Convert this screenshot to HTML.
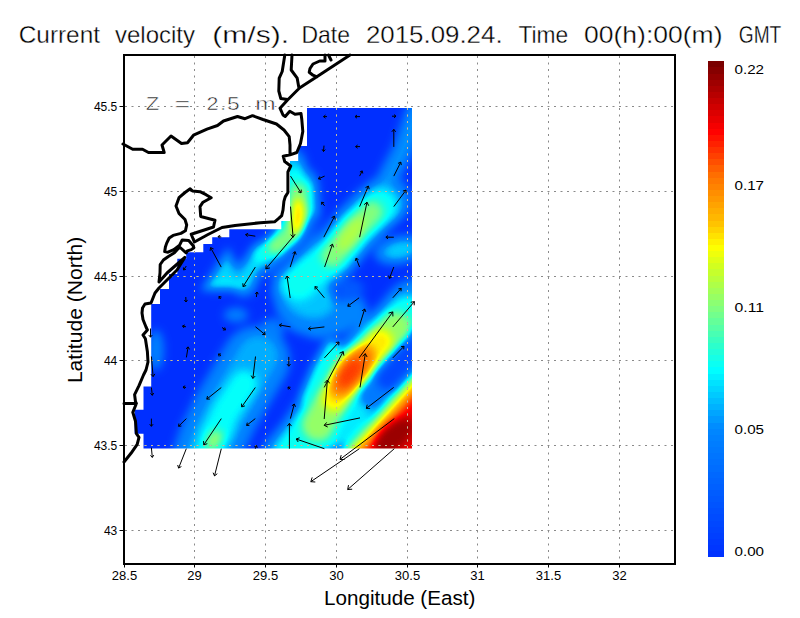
<!DOCTYPE html><html><head><meta charset="utf-8"><style>
html,body{margin:0;padding:0;background:#fff;width:800px;height:618px;overflow:hidden}
svg{display:block}
text{font-family:"Liberation Sans",sans-serif}
</style></head><body>
<svg width="800" height="618" viewBox="0 0 800 618">
<rect width="800" height="618" fill="#fff"/>

<g font-size="24" fill="#000" stroke="#fff" stroke-width="0.35">
<text x="18.75" y="42.5" textLength="81.25" lengthAdjust="spacingAndGlyphs">Current</text>
<text x="115.00" y="42.5" textLength="80.00" lengthAdjust="spacingAndGlyphs">velocity</text>
<text x="212.30" y="42.5" textLength="76.70" lengthAdjust="spacingAndGlyphs">(m/s).</text>
<text x="301.50" y="42.5" textLength="48.50" lengthAdjust="spacingAndGlyphs">Date</text>
<text x="365.90" y="42.5" textLength="136.70" lengthAdjust="spacingAndGlyphs">2015.09.24.</text>
<text x="518.40" y="42.5" textLength="49.80" lengthAdjust="spacingAndGlyphs">Time</text>
<text x="584.00" y="42.5" textLength="138.50" lengthAdjust="spacingAndGlyphs">00(h):00(m)</text>
<text x="738.75" y="42.5" textLength="42.50" lengthAdjust="spacingAndGlyphs">GMT</text>
</g>
<defs><clipPath id="fc"><path d="M307,108 H412 V448.4 H143.5 V433.7 H134.6 V409.7 H143.5 V386.6 H151.2 V304 H160 V289 H169 V274 H177.3 V258.7 H186.2 V252.2 H203.3 V244.1 H212.2 V237.3 H229.3 V229.2 H281.3 V221 H290 V161 H298.2 V146 H307 Z"/></clipPath></defs>
<defs><filter id="cm" filterUnits="userSpaceOnUse" x="100" y="90" width="340" height="380" color-interpolation-filters="sRGB"><feGaussianBlur stdDeviation="4.5"/><feComponentTransfer><feFuncR type="table" tableValues="0.000 0.000 0.000 0.000 0.000 0.000 0.000 0.000 0.000 0.000 0.000 0.000 0.000 0.000 0.000 0.000 0.000 0.000 0.000 0.000 0.000 0.000 0.000 0.000 0.000 0.000 0.000 0.000 0.000 0.000 0.000 0.000 0.000 0.000 0.000 0.000 0.000 0.000 0.011 0.046 0.082 0.117 0.153 0.188 0.233 0.278 0.323 0.368 0.412 0.457 0.502 0.539 0.576 0.613 0.650 0.687 0.723 0.760 0.797 0.839 0.885 0.931 0.977 1.000 1.000 1.000 1.000 1.000 1.000 1.000 1.000 1.000 1.000 1.000 1.000 1.000 1.000 1.000 1.000 1.000 1.000 1.000 1.000 1.000 1.000 1.000 1.000 0.961 0.922 0.883 0.844 0.805 0.766 0.727 0.689 0.650 0.611 0.572 0.533 0.494 0.455"/><feFuncG type="table" tableValues="0.188 0.202 0.215 0.228 0.241 0.255 0.268 0.281 0.294 0.308 0.321 0.334 0.348 0.361 0.374 0.387 0.401 0.414 0.427 0.440 0.454 0.467 0.480 0.494 0.507 0.520 0.533 0.572 0.610 0.648 0.687 0.725 0.763 0.802 0.840 0.878 0.923 0.968 1.000 1.000 1.000 1.000 1.000 1.000 1.000 1.000 1.000 1.000 1.000 1.000 1.000 1.000 1.000 1.000 1.000 1.000 1.000 1.000 1.000 1.000 1.000 1.000 1.000 0.975 0.926 0.876 0.827 0.778 0.736 0.703 0.670 0.637 0.604 0.571 0.538 0.505 0.472 0.439 0.390 0.342 0.293 0.244 0.195 0.146 0.098 0.049 0.000 0.000 0.000 0.000 0.000 0.000 0.000 0.000 0.000 0.000 0.000 0.000 0.000 0.000 0.000"/><feFuncB type="table" tableValues="1.000 1.000 1.000 1.000 1.000 1.000 1.000 1.000 1.000 1.000 1.000 1.000 1.000 1.000 1.000 1.000 1.000 1.000 1.000 1.000 1.000 1.000 1.000 1.000 1.000 1.000 1.000 1.000 1.000 1.000 1.000 1.000 1.000 1.000 1.000 1.000 1.000 1.000 0.988 0.947 0.906 0.866 0.825 0.784 0.744 0.704 0.663 0.623 0.583 0.542 0.502 0.458 0.413 0.369 0.325 0.281 0.236 0.192 0.148 0.110 0.078 0.047 0.016 0.000 0.000 0.000 0.000 0.000 0.000 0.000 0.000 0.000 0.000 0.000 0.000 0.000 0.000 0.000 0.000 0.000 0.000 0.000 0.000 0.000 0.000 0.000 0.000 0.000 0.000 0.000 0.000 0.000 0.000 0.000 0.000 0.000 0.000 0.000 0.000 0.000 0.000"/></feComponentTransfer></filter></defs>
<g clip-path="url(#fc)"><g filter="url(#cm)"><rect x="100" y="90" width="340" height="380" fill="#000"/>
<path d="M416.0,112.0 L403.0,150.0 L390.0,174.0 L380.0,196.0" stroke="rgb(56,56,56)" stroke-width="22.0" fill="none" stroke-linecap="round" stroke-linejoin="round"/>
<path d="M272.0,330.0 L252.0,367.0" stroke="rgb(56,56,56)" stroke-width="24.0" fill="none" stroke-linecap="round" stroke-linejoin="round"/>
<ellipse cx="236.0" cy="315.0" rx="12.0" ry="7.5" transform="rotate(0.0 236.0 315.0)" fill="rgb(59,59,59)"/>
<path d="M291.0,163.0 L298.0,190.0 L299.0,215.0 L293.0,235.0 L280.0,248.0 L265.0,256.0" stroke="rgb(61,61,61)" stroke-width="30.0" fill="none" stroke-linecap="round" stroke-linejoin="round"/>
<path d="M298.0,186.0 L300.0,215.0 L293.0,235.0" stroke="rgb(61,61,61)" stroke-width="42.0" fill="none" stroke-linecap="round" stroke-linejoin="round"/>
<path d="M278.0,246.0 L262.0,256.0 L250.0,270.0 L244.0,284.0" stroke="rgb(61,61,61)" stroke-width="26.0" fill="none" stroke-linecap="round" stroke-linejoin="round"/>
<path d="M386.0,200.0 L374.0,210.0 L356.0,228.0 L334.0,255.0 L312.0,272.0 L296.0,290.0" stroke="rgb(61,61,61)" stroke-width="50.0" fill="none" stroke-linecap="round" stroke-linejoin="round"/>
<ellipse cx="156.0" cy="350.0" rx="8.0" ry="20.0" transform="rotate(0.0 156.0 350.0)" fill="rgb(61,61,61)"/>
<path d="M256.0,360.0 L226.0,411.0 L212.0,440.0 L206.0,458.0" stroke="rgb(61,61,61)" stroke-width="68.0" fill="none" stroke-linecap="round" stroke-linejoin="round"/>
<ellipse cx="400.0" cy="250.0" rx="26.0" ry="14.3" transform="rotate(-12.0 400.0 250.0)" fill="rgb(64,64,64)"/>
<path d="M294.0,290.0 L290.0,305.0 L300.0,318.0 L318.0,324.0 L338.0,319.0 L352.0,310.0" stroke="rgb(64,64,64)" stroke-width="30.0" fill="none" stroke-linecap="round" stroke-linejoin="round"/>
<path d="M414.0,308.0 L400.0,325.0 L378.0,345.0 L352.0,372.0 L335.0,395.0 L320.0,418.0 L305.0,440.0 L290.0,458.0" stroke="rgb(64,64,64)" stroke-width="58.0" fill="none" stroke-linecap="round" stroke-linejoin="round"/>
<path d="M228.0,247.0 L200.0,291.0 L250.0,291.0Z" fill="rgb(71,71,71)"/>
<path d="M416.0,112.0 L403.0,150.0 L390.0,174.0 L380.0,196.0" stroke="rgb(71,71,71)" stroke-width="11.0" fill="none" stroke-linecap="round" stroke-linejoin="round"/>
<path d="M258.0,356.0 L226.0,411.0 L212.0,440.0 L206.0,458.0" stroke="rgb(76,76,76)" stroke-width="42.0" fill="none" stroke-linecap="round" stroke-linejoin="round"/>
<ellipse cx="310.0" cy="298.0" rx="26.0" ry="20.0" transform="rotate(15.0 310.0 298.0)" fill="rgb(82,82,82)"/>
<path d="M292.0,170.0 L299.0,195.0 L298.0,218.0 L291.0,236.0 L278.0,246.0 L262.0,254.0" stroke="rgb(84,84,84)" stroke-width="24.0" fill="none" stroke-linecap="round" stroke-linejoin="round"/>
<path d="M299.0,190.0 L299.0,218.0 L291.0,236.0" stroke="rgb(84,84,84)" stroke-width="34.0" fill="none" stroke-linecap="round" stroke-linejoin="round"/>
<path d="M382.0,205.0 L374.0,212.0 L356.0,228.0 L334.0,255.0 L312.0,272.0 L298.0,284.0" stroke="rgb(84,84,84)" stroke-width="40.0" fill="none" stroke-linecap="round" stroke-linejoin="round"/>
<ellipse cx="400.0" cy="250.0" rx="16.0" ry="8.8" transform="rotate(-12.0 400.0 250.0)" fill="rgb(84,84,84)"/>
<ellipse cx="350.0" cy="290.0" rx="14.0" ry="11.0" transform="rotate(-10.0 350.0 290.0)" fill="rgb(31,31,31)"/>
<path d="M226.0,257.0 L208.0,288.0 L242.0,288.0Z" fill="rgb(87,87,87)"/>
<path d="M278.0,246.0 L262.0,256.0 L250.0,270.0 L245.0,282.0" stroke="rgb(89,89,89)" stroke-width="14.0" fill="none" stroke-linecap="round" stroke-linejoin="round"/>
<path d="M212.0,285.0 L244.0,285.0" stroke="rgb(94,94,94)" stroke-width="9.0" fill="none" stroke-linecap="round" stroke-linejoin="round"/>
<path d="M244.0,384.0 L226.0,411.0 L214.0,437.0 L208.0,456.0" stroke="rgb(97,97,97)" stroke-width="28.0" fill="none" stroke-linecap="round" stroke-linejoin="round"/>
<ellipse cx="217.0" cy="432.0" rx="24.0" ry="15.0" transform="rotate(-60.0 217.0 432.0)" fill="rgb(97,97,97)"/>
<ellipse cx="334.0" cy="441.0" rx="13.0" ry="8.0" transform="rotate(-40.0 334.0 441.0)" fill="rgb(97,97,97)"/>
<path d="M295.0,178.0 L299.0,195.0 L298.0,218.0 L291.0,236.0 L278.0,246.0 L262.0,254.0" stroke="rgb(99,99,99)" stroke-width="20.0" fill="none" stroke-linecap="round" stroke-linejoin="round"/>
<path d="M299.0,192.0 L299.0,218.0 L291.0,236.0 L280.0,244.0" stroke="rgb(99,99,99)" stroke-width="28.0" fill="none" stroke-linecap="round" stroke-linejoin="round"/>
<path d="M380.0,206.0 L356.0,228.0 L334.0,255.0 L312.0,272.0 L298.0,284.0" stroke="rgb(99,99,99)" stroke-width="32.0" fill="none" stroke-linecap="round" stroke-linejoin="round"/>
<ellipse cx="301.0" cy="285.0" rx="14.0" ry="15.0" transform="rotate(0.0 301.0 285.0)" fill="rgb(99,99,99)"/>
<path d="M408.0,316.0 L378.0,345.0 L352.0,372.0 L335.0,395.0 L320.0,418.0 L305.0,440.0 L294.0,455.0" stroke="rgb(99,99,99)" stroke-width="42.0" fill="none" stroke-linecap="round" stroke-linejoin="round"/>
<path d="M332.0,348.0 L320.0,370.0 L308.0,398.0" stroke="rgb(99,99,99)" stroke-width="18.0" fill="none" stroke-linecap="round" stroke-linejoin="round"/>
<path d="M316.0,220.0 L304.0,240.0 L290.0,256.0 L272.0,274.0" stroke="rgb(31,31,31)" stroke-width="10.0" fill="none" stroke-linecap="round" stroke-linejoin="round"/>
<path d="M396.0,374.0 L378.0,392.0 L362.0,408.0 L345.0,434.0" stroke="rgb(92,92,92)" stroke-width="22.0" fill="none" stroke-linecap="round" stroke-linejoin="round"/>
<path d="M428.0,336.0 L400.0,366.0 L372.0,396.0" stroke="rgb(56,56,56)" stroke-width="24.0" fill="none" stroke-linecap="round" stroke-linejoin="round"/>
<path d="M432.0,328.0 L388.0,378.0" stroke="rgb(18,18,18)" stroke-width="24.0" fill="none" stroke-linecap="round" stroke-linejoin="round"/>
<path d="M436.4,344.3 L322.4,470.2 L520.0,520.0 L520.0,300.0Z" fill="rgb(99,99,99)"/>
<path d="M298.0,192.0 L299.0,215.0 L291.0,236.0 L276.0,246.0" stroke="rgb(128,128,128)" stroke-width="18.0" fill="none" stroke-linecap="round" stroke-linejoin="round"/>
<path d="M372.0,212.0 L356.0,228.0 L332.0,256.0" stroke="rgb(128,128,128)" stroke-width="22.0" fill="none" stroke-linecap="round" stroke-linejoin="round"/>
<ellipse cx="214.0" cy="440.0" rx="11.0" ry="7.0" transform="rotate(-60.0 214.0 440.0)" fill="rgb(133,133,133)"/>
<path d="M396.0,328.0 L378.0,345.0 L352.0,372.0 L335.0,395.0 L318.0,425.0" stroke="rgb(133,133,133)" stroke-width="32.0" fill="none" stroke-linecap="round" stroke-linejoin="round"/>
<ellipse cx="351.0" cy="234.0" rx="20.0" ry="10.0" transform="rotate(-55.0 351.0 234.0)" fill="rgb(140,140,140)"/>
<path d="M439.4,347.0 L325.4,472.9 L520.0,520.0 L520.0,300.0Z" fill="rgb(140,140,140)"/>
<path d="M380.0,342.0 L352.0,372.0 L335.0,398.0" stroke="rgb(163,163,163)" stroke-width="26.0" fill="none" stroke-linecap="round" stroke-linejoin="round"/>
<ellipse cx="298.0" cy="217.0" rx="7.0" ry="19.0" transform="rotate(0.0 298.0 217.0)" fill="rgb(168,168,168)"/>
<path d="M443.1,350.4 L329.1,476.3 L520.0,520.0 L520.0,300.0Z" fill="rgb(173,173,173)"/>
<ellipse cx="352.0" cy="371.0" rx="30.0" ry="16.0" transform="rotate(-52.0 352.0 371.0)" fill="rgb(194,194,194)"/>
<path d="M447.5,354.4 L333.5,480.3 L520.0,520.0 L520.0,300.0Z" fill="rgb(204,204,204)"/>
<ellipse cx="350.0" cy="373.0" rx="17.0" ry="9.0" transform="rotate(-52.0 350.0 373.0)" fill="rgb(207,207,207)"/>
<path d="M452.0,358.4 L338.0,484.3 L520.0,520.0 L520.0,300.0Z" fill="rgb(224,224,224)"/>
<ellipse cx="394.0" cy="436.0" rx="24.0" ry="13.0" transform="rotate(-40.0 394.0 436.0)" fill="rgb(245,245,245)"/>
</g></g>
<path d="M194.5,56V563 M265.5,56V563 M336.5,56V563 M407.5,56V563 M477.5,56V563 M548.5,56V563 M619.5,56V563 M125,106.5H674 M125,191.5H674 M125,276.5H674 M125,360.5H674 M125,445.5H674 M125,530.5H674" stroke="#8a8a8a" stroke-width="1" stroke-dasharray="2 4.5" fill="none"/>
<path d="M194.5,56V563 M265.5,56V563 M336.5,56V563 M407.5,56V563 M477.5,56V563 M548.5,56V563 M619.5,56V563 M125,106.5H674 M125,191.5H674 M125,276.5H674 M125,360.5H674 M125,445.5H674 M125,530.5H674" stroke="#c8bc98" stroke-width="1" stroke-dasharray="2 4.5" fill="none" clip-path="url(#fc)"/>
<path d="M123.0,144.0 L132.7,149.2 L142.5,149.2 L148.5,152.5 L164.2,152.5 L162.0,145.0 L171.0,136.0 L181.5,143.5 L187.5,142.7 L193.5,135.2 L207.0,129.2 L217.5,125.5 L223.5,121.0 L237.5,116.5 L245.0,118.7 L252.5,115.7 L263.0,119.5 L276.5,124.0 L284.0,130.0 L289.2,136.7 L290.0,145.0 L290.0,154.7 L283.2,156.2 L284.7,161.5 L290.7,166.0 L287.9,172.0 L287.9,192.5 L285.2,196.9 L283.9,201.4 L283.0,210.2 L281.7,215.6 L279.0,218.2 L274.6,221.8 L260.3,222.7 L235.0,225.4 L222.0,227.5 L208.0,234.5 L194.4,242.0 L191.2,234.2 L213.5,227.0 L215.0,220.2 M350.0,55.0 L316.8,76.8 L299.5,88.0 L293.5,94.0 L287.5,100.0 L280.0,108.2 L283.0,115.0 L285.2,116.5 L289.8,111.2 L295.0,114.2 L301.0,113.5 L301.8,119.5 L302.8,131.5 L300.5,143.5 L296.8,152.5 L290.0,154.8 M284.8,55.0 L282.2,71.5 L279.2,78.2 L278.8,91.0 L280.8,98.5 L287.5,99.5 M292.0,55.0 L291.2,70.0 L297.2,78.2 L298.8,87.2 L299.5,88.0 M325.0,55.0 L325.0,61.0 L319.7,61.0 L313.0,64.0 L310.0,68.5 L309.2,72.2 L313.0,75.2 L316.8,76.8 M328.5,55.0 L331.0,60.0 M215.0,220.2 L200.7,216.5 L200.0,206.7 L203.0,202.2 L211.2,197.7 L206.0,194.7 L200.0,191.7 L192.5,191.0 L190.2,188.7 L185.0,192.5 L179.0,197.7 L176.0,206.0 L179.0,213.5 L185.0,219.5 L186.7,225.0 L185.4,230.8 L180.9,233.4 L173.1,235.4 L169.2,238.0 L166.7,243.1 L165.4,247.0 L164.7,251.6 L168.0,252.2 L173.8,249.6 L179.6,245.1 L182.2,239.9 L188.7,240.5 L193.2,245.7 L193.9,247.7 L191.3,249.6 L187.4,250.9 L186.1,252.8 M186.1,252.8 L179.6,247.0 L174.4,252.8 L168.0,256.7 L163.4,260.0 L160.2,264.5 L160.0,273.0 L159.0,282.0 L167.0,273.0 L175.0,266.0 L184.8,257.4 L177.0,270.0 L169.0,278.0 L159.0,288.0 L155.0,293.0 L151.0,303.0 L145.0,304.0 L142.5,308.0 L142.0,313.0 L143.0,319.5 L146.0,327.0 L147.4,330.0 L143.0,335.0 L145.4,338.8 L147.4,351.8 L148.0,362.0 L146.0,370.0 L143.5,375.0 L139.0,385.7 L134.6,394.6 L135.5,401.7 L136.4,403.5 L132.8,412.4 L135.5,421.3 L136.4,433.7 L139.0,437.3 L137.2,444.4 L131.0,453.3 L124.0,462.0 M124.0,403.5 L136.4,403.5" stroke="#000" stroke-width="3" fill="none" stroke-linejoin="round" stroke-linecap="round"/>
<path d="M327.0,116.6L323.5,116.6M325.5,118.2L323.5,116.6L325.5,115.0M360.0,116.6L355.0,116.6M357.0,118.2L355.0,116.6L357.0,115.0M392.0,116.2L396.0,116.2M394.0,114.6L396.0,116.2L394.0,117.8M393.8,146.9L393.8,129.4M391.8,131.8L393.8,129.4L395.7,131.8M324.0,145.6L323.5,151.5M325.3,149.6L323.5,151.5L322.1,149.3M360.0,146.6L355.6,146.6M357.6,148.2L355.6,146.6L357.6,145.0M290.5,176.1L301.0,192.8M301.3,189.6L301.0,192.8L298.0,191.7M324.6,176.1L318.5,178.8M321.1,179.4L318.5,178.8L319.8,176.4M359.6,176.1L362.2,170.9M359.9,172.0L362.2,170.9L362.8,173.5M393.8,176.1L400.8,162.1M398.0,163.4L400.8,162.1L401.3,165.1M290.5,206.6L293.1,237.2M295.1,234.2L293.1,237.2L290.6,234.6M324.6,205.8L321.6,202.2M321.7,204.8L321.6,202.2L324.2,202.8M359.6,206.6L368.4,186.0M365.5,187.6L368.4,186.0L369.2,189.2M393.8,206.6L406.0,190.1M402.9,191.0L406.0,190.1L406.1,193.3M221.3,237.0L218.0,236.5M219.7,238.3L218.0,236.5L220.2,235.3M255.3,236.2L245.6,234.6M247.5,236.7L245.6,234.6L248.1,233.3M293.5,236.2L265.9,268.8M269.9,267.9L265.9,268.8L266.1,264.6M323.8,237.2L334.6,216.2M331.6,217.6L334.6,216.2L335.2,219.5M359.6,237.2L367.0,202.2M364.1,204.7L367.0,202.2L368.7,205.7M393.8,237.2L385.9,237.2M388.0,238.9L385.9,237.2L388.0,235.6M186.3,266.0L183.5,270.0M186.0,269.2L183.5,270.0L183.4,267.4M221.2,267.1L210.6,247.6M210.1,250.8L210.6,247.6L213.6,248.9M255.3,267.1L243.1,286.6M246.2,285.5L243.1,286.6L242.8,283.3M290.2,267.1L295.1,251.7M292.6,253.4L295.1,251.7L296.2,254.6M324.6,267.0L332.5,244.2M329.7,246.1L332.5,244.2L333.6,247.4M359.6,267.0L356.1,258.2M355.3,260.9L356.1,258.2L358.5,259.6M393.8,267.0L389.4,278.4M391.9,276.9L389.4,278.4L388.6,275.6M185.8,297.0L186.0,302.0M187.5,299.9L186.0,302.0L184.3,300.0M220.8,298.8L219.0,296.5M219.1,299.0L219.0,296.5L221.5,297.0M256.4,297.0L257.0,292.0M255.2,293.8L257.0,292.0L258.3,294.2M290.2,298.0L287.0,276.0M285.4,278.9L287.0,276.0L289.4,278.3M324.4,297.8L315.0,286.6M315.1,289.6L315.0,286.6L317.9,287.2M359.1,297.8L347.8,306.2M350.8,306.3L347.8,306.2L348.6,303.4M392.8,297.8L401.2,288.4M398.4,288.9L401.2,288.4L401.0,291.3M150.5,328.5L150.5,337.2M152.2,335.1L150.5,337.2L148.8,335.1M186.0,326.8L182.5,326.0M184.1,328.0L182.5,326.0L184.8,324.9M222.0,327.5L225.5,329.8M224.7,327.4L225.5,329.8L222.9,330.0M255.5,326.8L265.1,334.6M264.5,331.8L265.1,334.6L262.2,334.5M290.6,326.9L279.4,325.0M281.3,327.1L279.4,325.0L281.9,323.6M324.4,326.9L308.4,328.8M311.0,330.3L308.4,328.8L310.6,326.6M359.1,326.9L364.7,309.0M362.1,310.8L364.7,309.0L365.8,311.9M392.8,326.9L414.4,301.6M410.7,302.3L414.4,301.6L414.2,305.3M151.4,356.5L153.1,376.6M154.9,373.9L153.1,376.6L150.9,374.2M186.4,357.4L188.1,346.9M186.0,348.8L188.1,346.9L189.5,349.4M221.0,356.0L218.5,354.0M219.1,356.5L218.5,354.0L221.0,354.0M255.5,356.5L252.9,378.4M255.2,376.1L252.9,378.4L251.2,375.6M288.8,356.9L288.8,366.2M290.5,364.1L288.8,366.2L287.0,364.1M324.4,357.9L339.0,342.0M335.8,342.5L339.0,342.0L338.7,345.3M359.1,357.9L392.8,311.9M388.5,313.1L392.8,311.9L392.9,316.4M392.8,357.9L404.0,346.3M401.0,346.7L404.0,346.3L403.7,349.3M151.4,387.5L152.3,395.3M153.7,393.0L152.3,395.3L150.4,393.4M186.0,387.5L183.0,387.0M184.7,388.9L183.0,387.0L185.2,385.8M221.3,387.5L206.8,399.1M209.9,399.1L206.8,399.1L207.5,396.0M255.3,387.5L241.7,406.9M244.9,405.9L241.7,406.9L241.5,403.6M290.4,389.4L288.0,387.0M288.3,389.5L288.0,387.0L290.5,387.3M324.2,387.4L343.2,351.6M339.5,353.2L343.2,351.6L343.9,355.6M360.0,387.4L365.3,353.7M362.5,356.3L365.3,353.7L367.1,357.0M393.7,387.4L366.3,408.4M370.1,408.4L366.3,408.4L367.2,404.7M151.4,418.6L151.4,426.3M153.1,424.2L151.4,426.3L149.7,424.2M186.3,418.6L178.6,426.3M181.4,426.0L178.6,426.3L178.9,423.5M221.3,418.6L203.8,444.8M207.3,443.7L203.8,444.8L203.5,441.1M255.3,418.6L246.6,425.4M249.4,425.4L246.6,425.4L247.3,422.6M290.4,418.6L294.3,404.0M291.9,405.8L294.3,404.0L295.5,406.8M324.2,419.0L327.4,380.0M324.7,382.9L327.4,380.0L329.6,383.3M360.0,417.9L324.2,425.3M327.7,427.0L324.2,425.3L326.7,422.4M394.3,418.6L340.0,459.4M344.5,459.5L340.0,459.4L341.2,455.1M151.4,447.7L152.3,457.4M153.8,455.1L152.3,457.4L150.4,455.4M186.3,448.7L178.6,468.1M181.4,466.5L178.6,468.1L177.7,465.0M221.3,448.7L214.5,475.9M217.3,473.7L214.5,475.9L213.1,472.7M255.3,448.7L256.5,445.5M254.3,446.8L256.5,445.5L257.3,447.9M289.4,448.7L289.4,423.4M287.3,426.1L289.4,423.4L291.5,426.1M324.4,448.7L296.2,439.0M298.2,442.0L296.2,439.0L299.6,437.8M359.4,448.7L310.8,481.7M315.3,482.0L310.8,481.7L312.2,477.4M394.3,448.7L347.7,489.5M352.2,489.2L347.7,489.5L348.5,485.1" stroke="#000" stroke-width="1" fill="none"/>
<rect x="124" y="55" width="551" height="509" fill="none" stroke="#000" stroke-width="2"/>
<path d="M119.5,106.5H123 M119.5,191.5H123 M119.5,276.5H123 M119.5,360.5H123 M119.5,445.5H123 M119.5,530.5H123 M124.5,565V567.5 M194.5,565V567.5 M265.5,565V567.5 M336.5,565V567.5 M407.5,565V567.5 M477.5,565V567.5 M548.5,565V567.5 M619.5,565V567.5" stroke="#000" stroke-width="1" fill="none"/>
<text x="117.3" y="110.8" font-size="12" text-anchor="end">45.5</text>
<text x="117.3" y="195.8" font-size="12" text-anchor="end">45</text>
<text x="117.3" y="280.8" font-size="12" text-anchor="end">44.5</text>
<text x="117.3" y="364.8" font-size="12" text-anchor="end">44</text>
<text x="117.3" y="449.8" font-size="12" text-anchor="end">43.5</text>
<text x="117.3" y="534.8" font-size="12" text-anchor="end">43</text>
<text x="124.5" y="580" font-size="13" text-anchor="middle">28.5</text>
<text x="194.5" y="580" font-size="13" text-anchor="middle">29</text>
<text x="265.5" y="580" font-size="13" text-anchor="middle">29.5</text>
<text x="336.5" y="580" font-size="13" text-anchor="middle">30</text>
<text x="407.5" y="580" font-size="13" text-anchor="middle">30.5</text>
<text x="477.5" y="580" font-size="13" text-anchor="middle">31</text>
<text x="548.5" y="580" font-size="13" text-anchor="middle">31.5</text>
<text x="619.5" y="580" font-size="13" text-anchor="middle">32</text>
<text x="324" y="605.2" font-size="20.5" textLength="151.4" lengthAdjust="spacingAndGlyphs">Longitude (East)</text>
<text transform="translate(82.2,383.1) rotate(-90)" x="0" y="0" font-size="20.5" textLength="146.4" lengthAdjust="spacingAndGlyphs">Latitude (North)</text>
<rect x="708" y="550.88" width="16" height="6.42" fill="rgb(0,50,255)" shape-rendering="crispEdges"/>
<rect x="708" y="544.75" width="16" height="6.42" fill="rgb(0,54,255)" shape-rendering="crispEdges"/>
<rect x="708" y="538.63" width="16" height="6.42" fill="rgb(0,58,255)" shape-rendering="crispEdges"/>
<rect x="708" y="532.51" width="16" height="6.42" fill="rgb(0,63,255)" shape-rendering="crispEdges"/>
<rect x="708" y="526.38" width="16" height="6.42" fill="rgb(0,67,255)" shape-rendering="crispEdges"/>
<rect x="708" y="520.26" width="16" height="6.42" fill="rgb(0,71,255)" shape-rendering="crispEdges"/>
<rect x="708" y="514.14" width="16" height="6.42" fill="rgb(0,75,255)" shape-rendering="crispEdges"/>
<rect x="708" y="508.01" width="16" height="6.42" fill="rgb(0,79,255)" shape-rendering="crispEdges"/>
<rect x="708" y="501.89" width="16" height="6.42" fill="rgb(0,84,255)" shape-rendering="crispEdges"/>
<rect x="708" y="495.77" width="16" height="6.42" fill="rgb(0,88,255)" shape-rendering="crispEdges"/>
<rect x="708" y="489.64" width="16" height="6.42" fill="rgb(0,92,255)" shape-rendering="crispEdges"/>
<rect x="708" y="483.52" width="16" height="6.42" fill="rgb(0,96,255)" shape-rendering="crispEdges"/>
<rect x="708" y="477.40" width="16" height="6.42" fill="rgb(0,100,255)" shape-rendering="crispEdges"/>
<rect x="708" y="471.27" width="16" height="6.42" fill="rgb(0,104,255)" shape-rendering="crispEdges"/>
<rect x="708" y="465.15" width="16" height="6.42" fill="rgb(0,109,255)" shape-rendering="crispEdges"/>
<rect x="708" y="459.02" width="16" height="6.42" fill="rgb(0,113,255)" shape-rendering="crispEdges"/>
<rect x="708" y="452.90" width="16" height="6.42" fill="rgb(0,117,255)" shape-rendering="crispEdges"/>
<rect x="708" y="446.78" width="16" height="6.42" fill="rgb(0,121,255)" shape-rendering="crispEdges"/>
<rect x="708" y="440.65" width="16" height="6.42" fill="rgb(0,125,255)" shape-rendering="crispEdges"/>
<rect x="708" y="434.53" width="16" height="6.42" fill="rgb(0,129,255)" shape-rendering="crispEdges"/>
<rect x="708" y="428.41" width="16" height="6.42" fill="rgb(0,134,255)" shape-rendering="crispEdges"/>
<rect x="708" y="422.28" width="16" height="6.42" fill="rgb(0,141,255)" shape-rendering="crispEdges"/>
<rect x="708" y="416.16" width="16" height="6.42" fill="rgb(0,153,255)" shape-rendering="crispEdges"/>
<rect x="708" y="410.04" width="16" height="6.42" fill="rgb(0,165,255)" shape-rendering="crispEdges"/>
<rect x="708" y="403.91" width="16" height="6.42" fill="rgb(0,178,255)" shape-rendering="crispEdges"/>
<rect x="708" y="397.79" width="16" height="6.42" fill="rgb(0,190,255)" shape-rendering="crispEdges"/>
<rect x="708" y="391.67" width="16" height="6.42" fill="rgb(0,202,255)" shape-rendering="crispEdges"/>
<rect x="708" y="385.54" width="16" height="6.42" fill="rgb(0,214,255)" shape-rendering="crispEdges"/>
<rect x="708" y="379.42" width="16" height="6.42" fill="rgb(0,226,255)" shape-rendering="crispEdges"/>
<rect x="708" y="373.30" width="16" height="6.42" fill="rgb(0,240,255)" shape-rendering="crispEdges"/>
<rect x="708" y="367.17" width="16" height="6.42" fill="rgb(0,254,255)" shape-rendering="crispEdges"/>
<rect x="708" y="361.05" width="16" height="6.42" fill="rgb(11,255,243)" shape-rendering="crispEdges"/>
<rect x="708" y="354.93" width="16" height="6.42" fill="rgb(22,255,230)" shape-rendering="crispEdges"/>
<rect x="708" y="348.80" width="16" height="6.42" fill="rgb(33,255,217)" shape-rendering="crispEdges"/>
<rect x="708" y="342.68" width="16" height="6.42" fill="rgb(44,255,204)" shape-rendering="crispEdges"/>
<rect x="708" y="336.56" width="16" height="6.42" fill="rgb(57,255,191)" shape-rendering="crispEdges"/>
<rect x="708" y="330.43" width="16" height="6.42" fill="rgb(72,255,179)" shape-rendering="crispEdges"/>
<rect x="708" y="324.31" width="16" height="6.42" fill="rgb(86,255,166)" shape-rendering="crispEdges"/>
<rect x="708" y="318.19" width="16" height="6.42" fill="rgb(100,255,153)" shape-rendering="crispEdges"/>
<rect x="708" y="312.06" width="16" height="6.42" fill="rgb(114,255,141)" shape-rendering="crispEdges"/>
<rect x="708" y="305.94" width="16" height="6.42" fill="rgb(128,255,128)" shape-rendering="crispEdges"/>
<rect x="708" y="299.81" width="16" height="6.42" fill="rgb(140,255,114)" shape-rendering="crispEdges"/>
<rect x="708" y="293.69" width="16" height="6.42" fill="rgb(151,255,100)" shape-rendering="crispEdges"/>
<rect x="708" y="287.57" width="16" height="6.42" fill="rgb(163,255,86)" shape-rendering="crispEdges"/>
<rect x="708" y="281.44" width="16" height="6.42" fill="rgb(174,255,72)" shape-rendering="crispEdges"/>
<rect x="708" y="275.32" width="16" height="6.42" fill="rgb(186,255,58)" shape-rendering="crispEdges"/>
<rect x="708" y="269.20" width="16" height="6.42" fill="rgb(198,255,44)" shape-rendering="crispEdges"/>
<rect x="708" y="263.07" width="16" height="6.42" fill="rgb(210,255,31)" shape-rendering="crispEdges"/>
<rect x="708" y="256.95" width="16" height="6.42" fill="rgb(224,255,21)" shape-rendering="crispEdges"/>
<rect x="708" y="250.83" width="16" height="6.42" fill="rgb(239,255,11)" shape-rendering="crispEdges"/>
<rect x="708" y="244.70" width="16" height="6.42" fill="rgb(253,255,1)" shape-rendering="crispEdges"/>
<rect x="708" y="238.58" width="16" height="6.42" fill="rgb(255,241,0)" shape-rendering="crispEdges"/>
<rect x="708" y="232.46" width="16" height="6.42" fill="rgb(255,226,0)" shape-rendering="crispEdges"/>
<rect x="708" y="226.33" width="16" height="6.42" fill="rgb(255,210,0)" shape-rendering="crispEdges"/>
<rect x="708" y="220.21" width="16" height="6.42" fill="rgb(255,195,0)" shape-rendering="crispEdges"/>
<rect x="708" y="214.09" width="16" height="6.42" fill="rgb(255,183,0)" shape-rendering="crispEdges"/>
<rect x="708" y="207.96" width="16" height="6.42" fill="rgb(255,173,0)" shape-rendering="crispEdges"/>
<rect x="708" y="201.84" width="16" height="6.42" fill="rgb(255,163,0)" shape-rendering="crispEdges"/>
<rect x="708" y="195.72" width="16" height="6.42" fill="rgb(255,152,0)" shape-rendering="crispEdges"/>
<rect x="708" y="189.59" width="16" height="6.42" fill="rgb(255,142,0)" shape-rendering="crispEdges"/>
<rect x="708" y="183.47" width="16" height="6.42" fill="rgb(255,131,0)" shape-rendering="crispEdges"/>
<rect x="708" y="177.35" width="16" height="6.42" fill="rgb(255,121,0)" shape-rendering="crispEdges"/>
<rect x="708" y="171.22" width="16" height="6.42" fill="rgb(255,110,0)" shape-rendering="crispEdges"/>
<rect x="708" y="165.10" width="16" height="6.42" fill="rgb(255,95,0)" shape-rendering="crispEdges"/>
<rect x="708" y="158.98" width="16" height="6.42" fill="rgb(255,79,0)" shape-rendering="crispEdges"/>
<rect x="708" y="152.85" width="16" height="6.42" fill="rgb(255,64,0)" shape-rendering="crispEdges"/>
<rect x="708" y="146.73" width="16" height="6.42" fill="rgb(255,49,0)" shape-rendering="crispEdges"/>
<rect x="708" y="140.60" width="16" height="6.42" fill="rgb(255,33,0)" shape-rendering="crispEdges"/>
<rect x="708" y="134.48" width="16" height="6.42" fill="rgb(255,18,0)" shape-rendering="crispEdges"/>
<rect x="708" y="128.36" width="16" height="6.42" fill="rgb(255,2,0)" shape-rendering="crispEdges"/>
<rect x="708" y="122.23" width="16" height="6.42" fill="rgb(245,0,0)" shape-rendering="crispEdges"/>
<rect x="708" y="116.11" width="16" height="6.42" fill="rgb(232,0,0)" shape-rendering="crispEdges"/>
<rect x="708" y="109.99" width="16" height="6.42" fill="rgb(220,0,0)" shape-rendering="crispEdges"/>
<rect x="708" y="103.86" width="16" height="6.42" fill="rgb(208,0,0)" shape-rendering="crispEdges"/>
<rect x="708" y="97.74" width="16" height="6.42" fill="rgb(196,0,0)" shape-rendering="crispEdges"/>
<rect x="708" y="91.62" width="16" height="6.42" fill="rgb(183,0,0)" shape-rendering="crispEdges"/>
<rect x="708" y="85.49" width="16" height="6.42" fill="rgb(171,0,0)" shape-rendering="crispEdges"/>
<rect x="708" y="79.37" width="16" height="6.42" fill="rgb(159,0,0)" shape-rendering="crispEdges"/>
<rect x="708" y="73.25" width="16" height="6.42" fill="rgb(147,0,0)" shape-rendering="crispEdges"/>
<rect x="708" y="67.12" width="16" height="6.42" fill="rgb(134,0,0)" shape-rendering="crispEdges"/>
<rect x="708" y="61.00" width="16" height="6.42" fill="rgb(122,0,0)" shape-rendering="crispEdges"/>
<text x="734.5" y="73.75" font-size="13.7" textLength="29.5" lengthAdjust="spacingAndGlyphs">0.22</text>
<text x="734.5" y="189.75" font-size="13.7" textLength="29.5" lengthAdjust="spacingAndGlyphs">0.17</text>
<text x="734.5" y="311.75" font-size="13.7" textLength="29.5" lengthAdjust="spacingAndGlyphs">0.11</text>
<text x="734.5" y="433.75" font-size="13.7" textLength="29.5" lengthAdjust="spacingAndGlyphs">0.05</text>
<text x="734.5" y="555.50" font-size="13.7" textLength="29.5" lengthAdjust="spacingAndGlyphs">0.00</text>
<g fill="#222" font-size="18.5" stroke="#fff" stroke-width="0.5">
<text x="145.8" y="109.8" textLength="13.5" lengthAdjust="spacingAndGlyphs">Z</text>
<text x="174.5" y="109.8" textLength="15.7" lengthAdjust="spacingAndGlyphs">=</text>
<text x="206.4" y="109.8" textLength="11.9" lengthAdjust="spacingAndGlyphs">2</text>
<text x="227.1" y="109.8" textLength="12.7" lengthAdjust="spacingAndGlyphs">5</text>
<text x="255.2" y="109.8" textLength="20.4" lengthAdjust="spacingAndGlyphs">m</text>
<text x="220.5" y="109.8">.</text>
</g>
</svg></body></html>
